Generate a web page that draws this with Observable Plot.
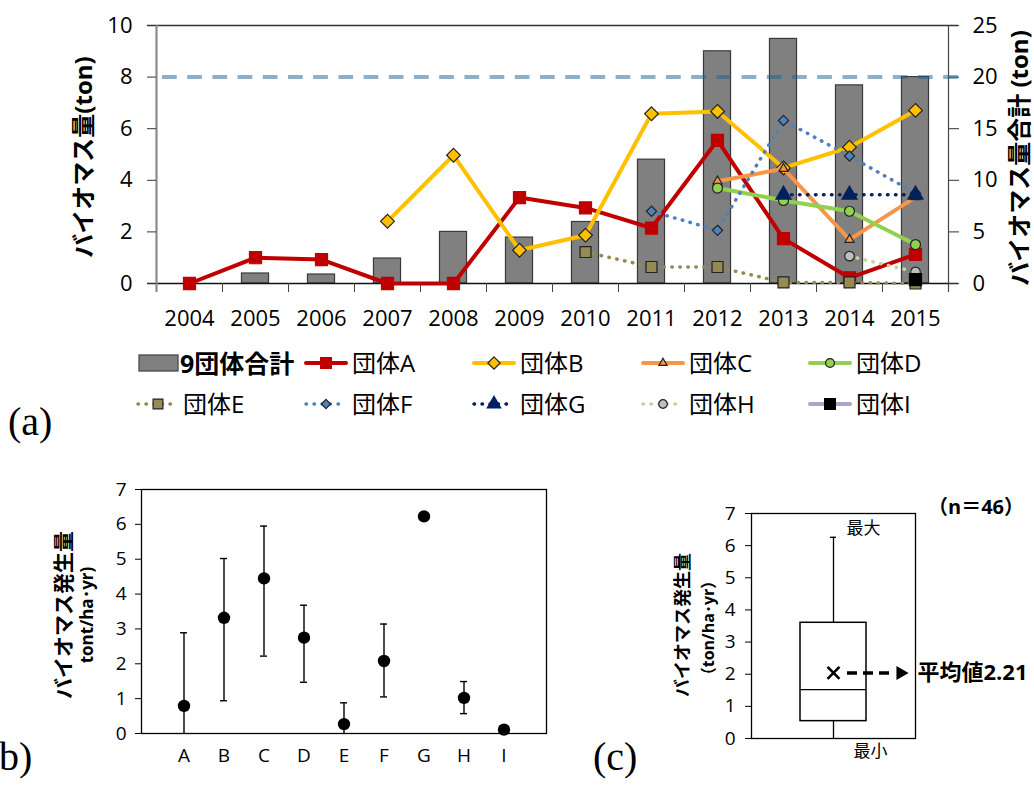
<!DOCTYPE html>
<html>
<head>
<meta charset="utf-8">
<script src="https://cdn.jsdelivr.net/npm/d3@7"></script>
<script src="https://cdn.jsdelivr.net/npm/@observablehq/plot@0.6"></script>
<style>
  body { margin: 0; background: #fff; }
  #root { position: relative; width: 1034px; height: 791px; overflow: hidden;
          font-family: "Open Sans", "Noto Sans CJK JP", sans-serif; color: #000; }
  .vlab { position: absolute; transform: translate(-50%, -50%) rotate(-90deg);
          white-space: nowrap; font-weight: bold; line-height: 1; }
  .plabel { position: absolute; font-family: "Liberation Serif", "DejaVu Serif", serif;
            font-size: 40px; line-height: 1; white-space: nowrap; }
  .ltext { position: absolute; transform: translateY(-50%); white-space: nowrap;
           font-size: 24px; line-height: 1; }
</style>
</head>
<body>
<div id="root"></div>
<script>
// ---------------- DATA: panel (a) ----------------
const years = [2004, 2005, 2006, 2007, 2008, 2009, 2010, 2011, 2012, 2013, 2014, 2015];
const totalLabel = "9団体合計";
const totals = [0, 0.97, 0.87, 2.42, 5.0, 4.45, 5.96, 12.0, 22.5, 23.7, 19.2, 20.0]; // right axis
const groupNames = ["団体A", "団体B", "団体C", "団体D", "団体E", "団体F", "団体G", "団体H", "団体I"];
const groupA = [0, 1.0, 0.93, 0, 0, 3.33, 2.93, 2.15, 5.55, 1.74, 0.22, 1.13];
const groupB = [null, null, null, 2.41, 4.97, 1.29, 1.87, 6.58, 6.67, 4.48, 5.28, 6.71];
const groupC = [null, null, null, null, null, null, null, null, 3.96, 4.45, 1.70, 3.35];
const groupD = [null, null, null, null, null, null, null, null, 3.70, 3.22, 2.80, 1.51];
const groupE = [null, null, null, null, null, null, 1.22, 0.64, 0.64, 0.04, 0.04, 0];
const groupF = [null, null, null, null, null, null, null, 2.80, 2.06, 6.32, 4.94, 3.50];
const groupG = [null, null, null, null, null, null, null, null, null, 3.44, 3.44, 3.44];
const groupH = [null, null, null, null, null, null, null, null, null, null, 1.06, 0.45];
const groupI = [null, null, null, null, null, null, null, null, null, null, null, 0.15];
const leftTicks = [0, 2, 4, 6, 8, 10];
const rightTicks = [0, 5, 10, 15, 20, 25];
const targetLine = 8;
const leftTitle = "バイオマス量(ton)";
const rightTitle = "バイオマス量合計 (ton)";

// ---------------- DATA: panel (b) ----------------
const bCats = ["A", "B", "C", "D", "E", "F", "G", "H", "I"];
const bMean = [0.79, 3.32, 4.45, 2.75, 0.27, 2.08, 6.23, 1.02, 0.11];
const bLow  = [0, 0.94, 2.22, 1.47, 0, 1.05, null, 0.57, null];
const bHigh = [2.89, 5.02, 5.95, 3.68, 0.88, 3.14, null, 1.49, null];
const bTicks = [0, 1, 2, 3, 4, 5, 6, 7];
const bTitle1 = "バイオマス発生量";
const bTitle2 = "tont/ha･yr)";

// ---------------- DATA: panel (c) ----------------
const cCategory = "全体";
const cMin = 0, cQ1 = 0.54, cMedian = 1.52, cQ3 = 3.6, cMax = 6.26, cMeanMark = 2.04;
const cMeanLabel = "平均値2.21";
const cMaxLabel = "最大", cMinLabel = "最小";
const cCount = "（n＝46）";
const cTicks = [0, 1, 2, 3, 4, 5, 6, 7];
const cTitle1 = "バイオマス発生量";
const cTitle2 = "（ton/ha･yr）";

// ---------------- STYLES ----------------
const FONT = '"Open Sans", "Noto Sans CJK JP", sans-serif';
const DOT = "0.5,7.5";
const groupSeries = [groupA, groupB, groupC, groupD, groupE, groupF, groupG, groupH, groupI];
const groupStyles = [
  {color: "#c00000", width: 4,   dash: null, symbol: "square",   r: 6.8, fill: "#c00000", ms: "#c00000"},
  {color: "#ffc000", width: 4,   dash: null, symbol: "diamond2", r: 6.2, fill: "#ffc000", ms: "#222"},
  {color: "#f79646", width: 4,   dash: null, symbol: "triangle", r: 3.4, fill: "#f79646", ms: "#222"},
  {color: "#92d050", width: 4,   dash: null, symbol: "circle",   r: 5.0, fill: "#92d050", ms: "#222"},
  {color: "#948a54", width: 3.5, dash: DOT,  symbol: "square",   r: 6.2, fill: "#948a54", ms: "#222"},
  {color: "#4f81bd", width: 3.5, dash: DOT,  symbol: "diamond2", r: 4.6, fill: "#4f81bd", ms: "#222"},
  {color: "#002060", width: 3.5, dash: DOT,  symbol: "triangle", r: 5.6, fill: "#002060", ms: "#002060"},
  {color: "#c3d69b", width: 3.5, dash: DOT,  symbol: "circle",   r: 4.8, fill: "#bfbfbf", ms: "#222"},
  {color: "#b3a2c7", width: 4,   dash: null, symbol: "square",   r: 6.8, fill: "#000000", ms: "#000"}
];

const root = document.getElementById("root");
function place(el, left, top) {
  el.style.position = "absolute";
  el.style.left = left + "px";
  el.style.top = top + "px";
  root.appendChild(el);
  return el;
}
function div(cls, text, left, top, extra = {}) {
  const d = document.createElement("div");
  d.className = cls;
  d.textContent = text;
  Object.assign(d.style, extra);
  return place(d, left, top);
}

// ---------------- PANEL (a) ----------------
const ratio = rightTicks[rightTicks.length - 1] / leftTicks[leftTicks.length - 1];
const xStart = years[0] - 0.5, xEnd = years[years.length - 1] + 0.5;
const boundaries = d3.range(years.length + 1).map(i => xStart + i);
const barHalf = 0.205;
const totalRows = years.map((y, i) => ({year: y, total: totals[i]})).filter(d => d.total > 0);

const groupMarks = [];
groupSeries.forEach((vals, gi) => {
  const s = groupStyles[gi];
  const rows = years.map((y, i) => ({year: y, value: vals[i], group: groupNames[gi]})).filter(d => d.value != null);
  if (rows.length > 1) {
    groupMarks.push(Plot.line(rows, {x: "year", y: "value", stroke: s.color, strokeWidth: s.width,
      strokeDasharray: s.dash, strokeLinecap: "round", strokeLinejoin: "round"}));
  }
  groupMarks.push(Plot.dot(rows, {x: "year", y: "value", symbol: s.symbol, r: s.r, fill: s.fill,
    stroke: s.ms, strokeWidth: 1.2}));
});

const plotA = Plot.plot({
  width: 1034, height: 340,
  marginLeft: 156, marginRight: 86, marginTop: 25, marginBottom: 57,
  x: {domain: [xStart, xEnd]},
  y: {domain: [leftTicks[0], leftTicks[leftTicks.length - 1]]},
  style: {fontFamily: FONT, fontSize: "22px", color: "#000", background: "transparent", overflow: "visible"},
  marks: [
    Plot.rectY(totalRows, {x1: d => d.year - barHalf, x2: d => d.year + barHalf, y1: 0, y2: d => d.total / ratio,
      fill: "#808080", stroke: "#3a3a3a", strokeWidth: 1.2}),
    Plot.ruleY([leftTicks[leftTicks.length - 1]], {stroke: "#333", strokeWidth: 1.5, insetLeft: -9, insetRight: -10}),
    Plot.ruleY([0], {stroke: "#111", strokeWidth: 1.5, insetLeft: -9, insetRight: -10}),
    Plot.ruleX([xStart], {stroke: "#8a8a8a", strokeWidth: 2.2, insetBottom: -9}),
    Plot.ruleX([xEnd], {stroke: "#444", strokeWidth: 1.2, insetBottom: -9}),
    Plot.axisX(boundaries.slice(1, -1), {tickSize: 9, tickFormat: () => "", stroke: "#444", label: null}),
    Plot.axisX(years, {tickSize: 0, tickPadding: 27, tickFormat: d => String(d), label: null, fontSize: 22}),
    Plot.axisY(leftTicks, {anchor: "left", tickSize: 9, tickPadding: 15, stroke: "#333", label: null, fontSize: 22}),
    Plot.axisY(rightTicks.map(d => d / ratio), {anchor: "right", tickSize: 10, tickPadding: 14, stroke: "#333",
      tickFormat: d => String(Math.round(d * ratio)), label: null, fontSize: 22}),
    Plot.ruleY([targetLine], {stroke: "#1f5f8f", strokeOpacity: 0.5, strokeWidth: 4,
      strokeDasharray: "14.7,10.5", insetLeft: 6, insetRight: -10}),
    ...groupMarks
  ]
});
place(plotA, 0, 0);

div("vlab", leftTitle, 83, 157, {fontSize: "24px"});
div("vlab", rightTitle, 1019, 158, {fontSize: "24px"});
div("plabel", "(a)", 8, 402);

// ---------------- LEGEND ----------------
const symbolMap = {square: d3.symbolSquare, diamond2: d3.symbolDiamond2, triangle: d3.symbolTriangle, circle: d3.symbolCircle};
function swatch(s) {
  const svg = d3.create("svg").attr("width", 44).attr("height", 22).style("overflow", "visible");
  svg.append("line").attr("x1", 2).attr("x2", 42).attr("y1", 11).attr("y2", 11)
    .attr("stroke", s.color).attr("stroke-width", s.width)
    .attr("stroke-dasharray", s.dash).attr("stroke-linecap", "round");
  svg.append("path").attr("transform", "translate(22,11)")
    .attr("d", d3.symbol(symbolMap[s.symbol], Math.PI * s.r * s.r * 0.8)())
    .attr("fill", s.fill).attr("stroke", s.ms).attr("stroke-width", 1.2);
  return svg.node();
}
const legendCols = [136, 304, 472, 641, 808];
const legendRows = [363, 404];
{
  const svg = d3.create("svg").attr("width", 42).attr("height", 19);
  svg.append("rect").attr("x", 1).attr("y", 1).attr("width", 39).attr("height", 16)
    .attr("fill", "#808080").attr("stroke", "#4a4a4a").attr("stroke-width", 1.3);
  place(svg.node(), 138, legendRows[0] - 9);
  div("ltext", totalLabel, 180, legendRows[0], {fontWeight: "bold", fontSize: "25px"});
}
groupNames.forEach((name, gi) => {
  const slot = gi + 1;
  const row = Math.floor(slot / 5), col = slot % 5;
  const sx = legendCols[col];
  place(swatch(groupStyles[gi]), sx, legendRows[row] - 11);
  div("ltext", name, col === 0 ? sx + 47 : sx + 48, legendRows[row]);
});

// ---------------- PANEL (b) ----------------
const bRows = bCats.map((c, i) => ({cat: c, mean: bMean[i], lo: bLow[i], hi: bHigh[i]}));
const bErr = bRows.filter(d => d.lo != null);
const plotB = Plot.plot({
  width: 560, height: 300,
  marginLeft: 141, marginRight: 14, marginTop: 19, marginBottom: 37,
  x: {type: "band", domain: bCats, paddingInner: 0.82, paddingOuter: 0.91},
  y: {domain: [bTicks[0], bTicks[bTicks.length - 1]]},
  style: {fontFamily: FONT, fontSize: "19px", color: "#000", background: "transparent", overflow: "visible"},
  marks: [
    Plot.frame({stroke: "#000", strokeWidth: 1.3}),
    Plot.ruleX(bErr, {x: "cat", y1: "lo", y2: "hi", stroke: "#000", strokeWidth: 1.4}),
    Plot.tickY(bErr, {x: "cat", y: "hi", stroke: "#000", strokeWidth: 1.4}),
    Plot.tickY(bErr.filter(d => d.lo > 0), {x: "cat", y: "lo", stroke: "#000", strokeWidth: 1.4}),
    Plot.dot(bRows, {x: "cat", y: "mean", r: 6.2, fill: "#000"}),
    Plot.axisY(bTicks, {anchor: "left", tickSize: 6, tickPadding: 9, label: null, fontSize: 19}),
    Plot.axisX(bCats, {tickSize: 0, tickPadding: 15, label: null, fontSize: 19})
  ]
});
place(plotB, 0, 470);
div("vlab", bTitle1, 63, 615, {fontSize: "21px"});
div("vlab", bTitle2, 86, 615, {fontSize: "17px"});
div("plabel", "b)", -1, 737);

// ---------------- PANEL (c) ----------------
const cBox = [{cat: cCategory, min: cMin, q1: cQ1, median: cMedian, q3: cQ3, max: cMax, mean: cMeanMark}];
const plotC = Plot.plot({
  width: 394, height: 280,
  marginLeft: 111, marginRight: 119, marginTop: 23, marginBottom: 32,
  x: {type: "band", domain: [cCategory], padding: 0.426, axis: null},
  y: {domain: [cTicks[0], cTicks[cTicks.length - 1]]},
  style: {fontFamily: FONT, fontSize: "19px", color: "#000", background: "transparent", overflow: "visible"},
  marks: [
    Plot.frame({stroke: "#000", strokeWidth: 1.3}),
    Plot.ruleX(cBox, {x: "cat", y1: "min", y2: "q1", stroke: "#000", strokeWidth: 1.3}),
    Plot.ruleX(cBox, {x: "cat", y1: "q3", y2: "max", stroke: "#000", strokeWidth: 1.3}),
    Plot.tickY(cBox, {x: "cat", y: "max", insetLeft: 30, insetRight: 30, stroke: "#000", strokeWidth: 1.3}),
    Plot.barY(cBox, {x: "cat", y1: "q1", y2: "q3", fill: "#fff", stroke: "#000", strokeWidth: 1.5}),
    Plot.tickY(cBox, {x: "cat", y: "median", stroke: "#000", strokeWidth: 1.3}),
    Plot.dot(cBox, {x: "cat", y: "mean", symbol: "times", r: 5.5, stroke: "#000", strokeWidth: 2.6}),
    Plot.ruleY(cBox, {y: "mean", insetLeft: 96, insetRight: 22, stroke: "#000", strokeWidth: 3.5, strokeDasharray: "10,6"}),
    Plot.dot(cBox, {y: "mean", frameAnchor: "right", dx: -15, symbol: "triangle", rotate: 90, r: 5.2, fill: "#000"}),
    Plot.text(cBox, {y: "mean", frameAnchor: "right", dx: 2, textAnchor: "start", text: () => cMeanLabel,
      fontWeight: "bold", fontSize: 22}),
    Plot.text(cBox, {x: "cat", y: "max", text: () => cMaxLabel, dx: 30, dy: -9, fontSize: 17}),
    Plot.text(cBox, {x: "cat", y: "min", text: () => cMinLabel, dx: 37, dy: 13, fontSize: 17}),
    Plot.axisY(cTicks, {anchor: "left", tickSize: 6, tickPadding: 10, label: null, fontSize: 19})
  ]
});
place(plotC, 640, 490);
div("vlab", cTitle1, 682, 625, {fontSize: "18px"});
div("vlab", cTitle2, 708, 628, {fontSize: "16px"});
div("ltext", cCount, 928, 507, {fontWeight: "bold", fontSize: "20px"});
div("plabel", "(c)", 593, 737);
</script>
</body>
</html>
